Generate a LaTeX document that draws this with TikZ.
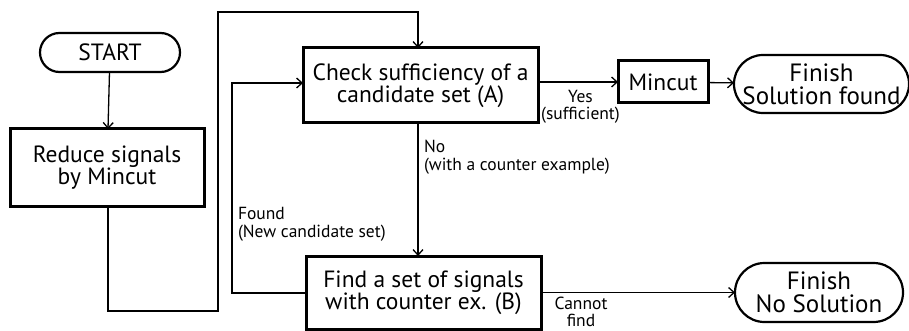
\documentclass[tikz,border=0pt]{standalone}
\usepackage{fontspec}
\setmainfont{PT Sans}
\usetikzlibrary{arrows.meta,shapes.misc}
\begin{document}
\begin{tikzpicture}[x=1pt,y=-1pt,
  every node/.style={inner sep=0pt, outer sep=0pt},
  procbox/.style={draw, line width=3pt, align=center, font=\fontsize{23.5}{22}\selectfont},
  termbox/.style={draw, rounded rectangle, line width=2.2pt, align=center, font=\fontsize{23.5}{22}\selectfont},
  finishbox/.style={termbox, font=\fontsize{25}{23}\selectfont},
  lbl/.style={font=\fontsize{17.5}{17.5}\selectfont},
  flow/.style={line width=1.3pt, -{Straight Barb[length=5.5pt,width=10pt,line width=1.3pt]}}
]
\useasboundingbox (0,0) rectangle (909,331);

% blocks
\node[termbox, minimum width=140pt, minimum height=39pt] (start) at (110,52.5) {START};
\node[procbox, minimum width=194pt, minimum height=77pt] (reduce) at (107,167.5) {Reduce signals\\by Mincut};
\node[procbox, minimum width=235pt, minimum height=75pt] (check) at (420.5,85.5) {Check sufficiency of a\\candidate set (A)};
\node[procbox, minimum width=90pt, minimum height=42pt] (mincut) at (663,82) {Mincut};
\node[finishbox, minimum width=171pt, minimum height=58pt] (solfound) at (821.5,84) {Finish\\Solution found};
\node[procbox, minimum width=235pt, minimum height=73pt] (find) at (423.5,292.5) {Find a set of signals\\with counter ex. (B)};
\node[finishbox, minimum width=168pt, minimum height=59pt] (nosol) at (819,292.5) {Finish\\No Solution};

% bend points
\coordinate (r1) at (108,311);
\coordinate (r2) at (218,311);
\coordinate (r3) at (218,12);
\coordinate (r4) at (418,12);
\coordinate (f1) at (232,293);
\coordinate (f2) at (232,83);

% connectors
\draw[flow] (start) -- (reduce);
\draw[flow] (reduce.south -| r1) -- (r1) -- (r2) -- (r3) -- (r4) -- (check.north -| r4);
\draw[flow] (check.east |- mincut) -- (mincut.west);
\draw[flow] (mincut) -- (solfound);
\draw[flow] (check.south -| r4) -- (find.north -| r4);
\draw[flow] (find.west |- f1) -- (f1) -- (f2) -- (check.west |- f2);
\draw[flow] (find.east |- nosol) -- (nosol.west);

% connector labels
\node[lbl, align=center] (yes) at (580.5,107) {Yes\\(sufficient)};
\node[lbl, align=left, anchor=west] (no) at (424,157) {No\\(with a counter example)};
\node[lbl, align=left, anchor=west] (found) at (238,224.5) {Found\\(New candidate set)};
\node[lbl, align=center] (cannot) at (581,312) {Cannot\\find};
\end{tikzpicture}
\end{document}
